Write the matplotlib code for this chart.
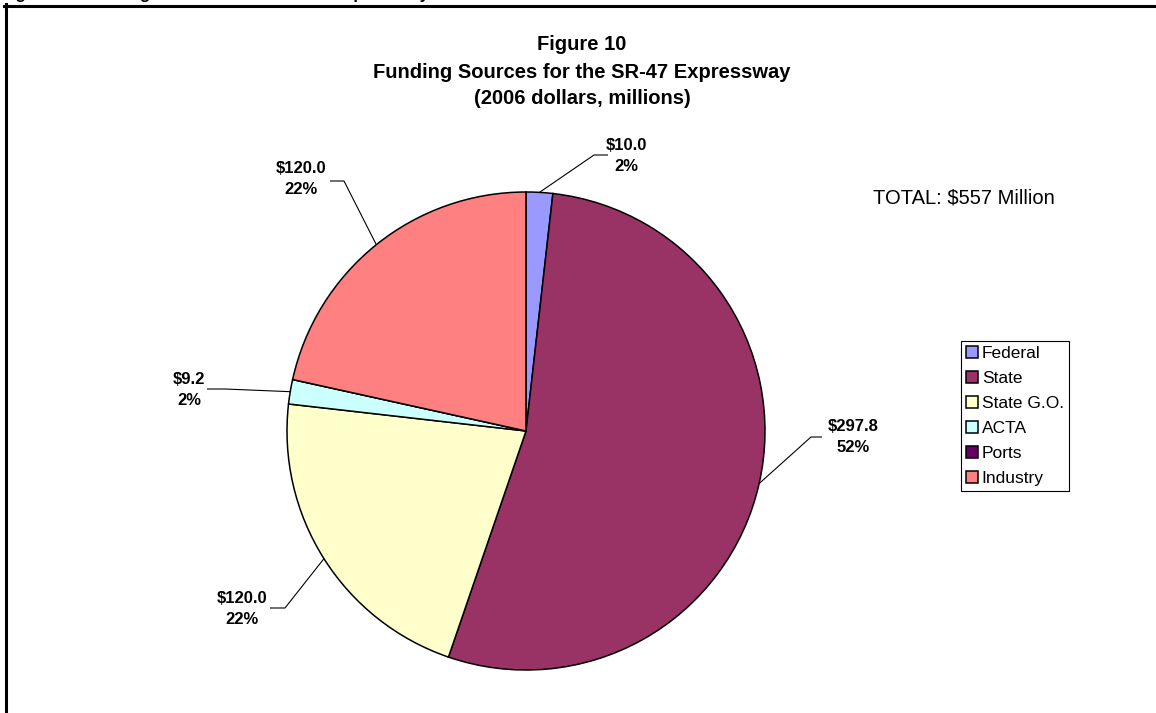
import numpy as np
import matplotlib.pyplot as plt

# data
sources    = ["Federal", "State", "State G.O.", "ACTA", "Ports", "Industry"]
amounts    = [10.0, 297.8, 120.0, 9.2, 0.0, 120.0]
pct_labels = ["2%", "52%", "22%", "2%", None, "22%"]
colors     = ["#9999FF", "#993366", "#FFFFCC", "#CCFFFF", "#660066", "#FF8080"]
total_text = "TOTAL: $557 Million"

plt.rcParams["font.family"] = ["Liberation Sans", "DejaVu Sans"]

W, H = 1156, 713
fig = plt.figure(figsize=(W / 100, H / 100), dpi=100)
ax  = fig.add_axes([0, 0, 1, 1])

# pie geometry in pixel units (y measured from top)
cx, cy, R = 526, 431, 239

wedges, _ = ax.pie(amounts, colors=colors, startangle=90, counterclock=False,
                   center=(cx, H - cy), radius=R, frame=True,
                   wedgeprops=dict(edgecolor="black", linewidth=1.1))

ax.set_xlim(0, W)
ax.set_ylim(0, H)
ax.axis("off")

# label text centre, elbow and end of leader (pixels from top-left)
label_pos = {
    0: ((626, 156), (594, 155), (608, 155)),
    1: ((853, 437), (811, 437), (822, 437)),
    2: ((242, 609), (285, 608), (270, 608)),
    3: ((189, 390), (225, 389), (207, 389)),
    5: ((301, 179), (344, 181), (330, 181)),
}

for i, pos in label_pos.items():
    txt, elb, end = pos
    w   = wedges[i]
    mid = np.deg2rad((w.theta1 + w.theta2) / 2)
    ax0, ay0 = cx + R * np.cos(mid), (H - cy) + R * np.sin(mid)
    ax.plot([ax0, elb[0], end[0]], [ay0, H - elb[1], H - end[1]],
            color="black", linewidth=0.8, solid_capstyle="butt")
    ax.text(txt[0], H - txt[1], "$%.1f\n%s" % (amounts[i], pct_labels[i]),
            ha="center", va="center", fontsize=12, fontweight="bold",
            linespacing=1.42)

# title
title_lines = ["Figure 10", "Funding Sources for the SR-47 Expressway",
               "(2006 dollars, millions)"]
for line, yy in zip(title_lines, [45, 72, 99]):
    ax.text(582, H - yy, line, ha="center", va="center",
            fontsize=14.5, fontweight="bold")

ax.text(873, H - 198, total_text, ha="left", va="center", fontsize=14.5)

# caption of the page, cut off by the top edge
ax.text(1, H + 1.5, "Figure 10: Funding Sources for the SR-47 Expressway",
        ha="left", va="baseline", fontsize=12, fontweight="bold")

# page frame
ax.plot([4, W], [H - 5.5, H - 5.5], color="black", linewidth=2.2, clip_on=False)
ax.plot([5.5, 5.5], [H - 4, 0], color="black", linewidth=2.2, clip_on=False)

leg = ax.legend(wedges, sources, loc="upper left",
                bbox_to_anchor=(961 / W, 1 - 341 / H),
                bbox_transform=fig.transFigure,
                fontsize=12.5, frameon=True, fancybox=False, shadow=False,
                edgecolor="black", framealpha=1.0, borderaxespad=0,
                borderpad=0.3, handlelength=0.7, handleheight=0.7,
                handletextpad=0.2, labelspacing=0.56)
leg.get_frame().set_linewidth(0.8)

plt.savefig("out.png", dpi=100)
